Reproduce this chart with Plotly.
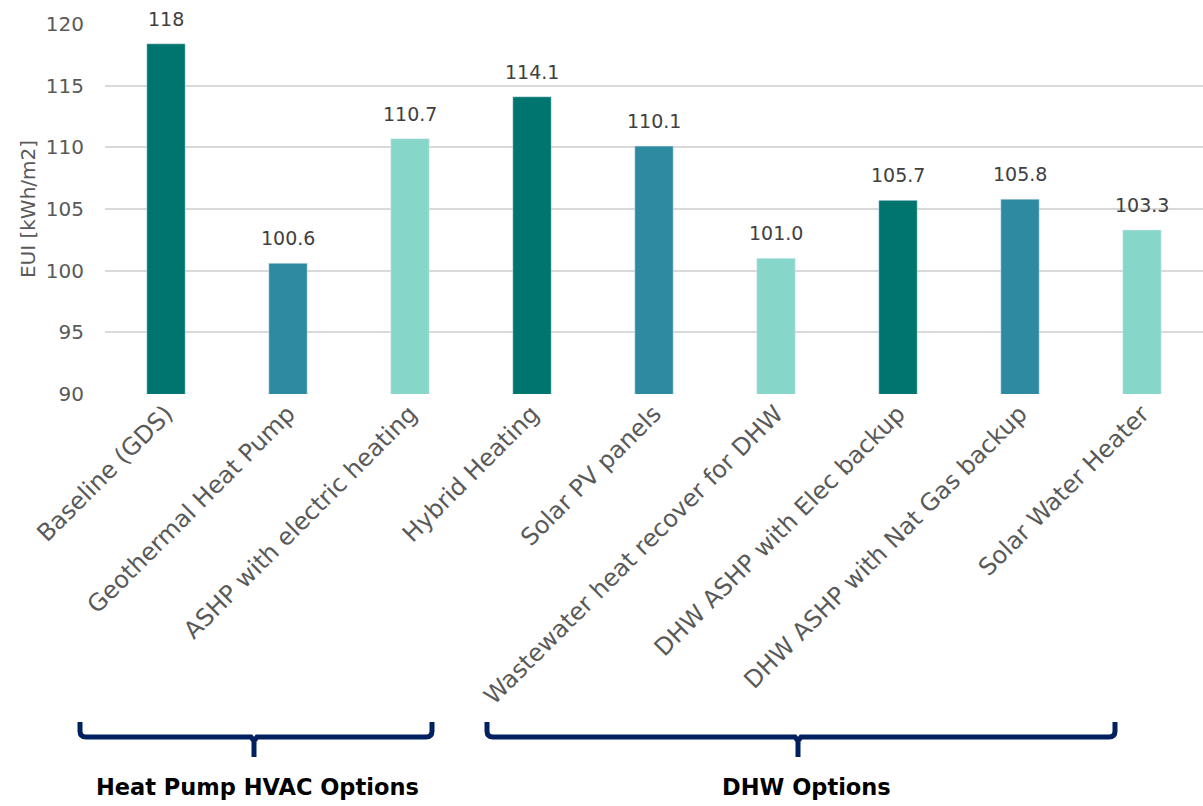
import plotly.graph_objects as go

categories = ["Baseline (GDS)", "Geothermal Heat Pump", "ASHP with electric heating",
              "Hybrid Heating", "Solar PV panels", "Wastewater heat recover for DHW",
              "DHW ASHP with Elec backup", "DHW ASHP with Nat Gas backup", "Solar Water Heater"]
values = [118.4, 100.6, 110.7, 114.1, 110.1, 101.0, 105.7, 105.8, 103.3]
value_labels = ["118", "100.6", "110.7", "114.1", "110.1", "101.0", "105.7", "105.8", "103.3"]
bar_colors = ["#00756F", "#2E8AA1", "#86D6CA"] * 3
groups = ["Heat Pump HVAC Options", "DHW Options"]

W, H = 1203, 806
L, R, T, B = 105, 0, 24, 412
pw, ph = W - L - R, H - T - B

def px(x):
    return (x - L) / pw

def py(y):
    return (H - B - y) / ph

FONT = "'DejaVu Sans', sans-serif"

fig = go.Figure()
fig.add_trace(go.Bar(
    x=categories, y=values, marker_color=bar_colors, width=0.315,
))

annotations = []
for c, v, t in zip(categories, values, value_labels):
    annotations.append(dict(x=c, y=v, text=t, showarrow=False, xref="x", yref="y",
                            yanchor="middle", xanchor="center", yshift=25,
                            font=dict(size=19, color="#404040", family=FONT)))

def bracket(x0, x1, xm):
    ytop, ymid, ybot = 722, 737, 757
    r = 6
    path = (f"M {px(x0)},{py(ytop)} L {px(x0)},{py(ymid - r)} "
            f"Q {px(x0)},{py(ymid)} {px(x0 + r)},{py(ymid)} "
            f"L {px(xm - 3)},{py(ymid)} L {px(xm)},{py(ymid + 4)} L {px(xm)},{py(ybot)} "
            f"M {px(xm)},{py(ymid + 4)} L {px(xm + 3)},{py(ymid)} "
            f"L {px(x1 - r)},{py(ymid)} Q {px(x1)},{py(ymid)} {px(x1)},{py(ymid - r)} "
            f"L {px(x1)},{py(ytop)}")
    return dict(type="path", xref="paper", yref="paper", path=path,
                line=dict(color="#002060", width=5))

shapes = [bracket(80, 432, 254), bracket(487, 1115, 798)]

annotations += [
    dict(text=f"<b>{groups[0]}</b>", x=px(257), y=py(787), xref="paper", yref="paper",
         showarrow=False, font=dict(size=22.5, color="#000000", family=FONT),
         xanchor="center", yanchor="middle"),
    dict(text=f"<b>{groups[1]}</b>", x=px(806), y=py(787), xref="paper", yref="paper",
         showarrow=False, font=dict(size=22.5, color="#000000", family=FONT),
         xanchor="center", yanchor="middle"),
]

fig.update_layout(
    width=W, height=H,
    margin=dict(l=L, r=R, t=T, b=B, autoexpand=False),
    plot_bgcolor="white", paper_bgcolor="white",
    showlegend=False, shapes=shapes, annotations=annotations,
    font=dict(family=FONT, color="#595959"),
)
fig.update_xaxes(
    tickangle=-45, tickfont=dict(size=24, color="#595959", family=FONT),
    showline=False, showgrid=False, ticks="", range=[-0.5, 8.5],
)
fig.update_yaxes(
    range=[90, 120], dtick=5, tick0=90,
    showgrid=True, gridcolor="#D9D9D9", gridwidth=1.5,
    zeroline=False, showline=False, ticks="", ticklabelstandoff=20,
    tickfont=dict(size=20, color="#595959", family=FONT),
    title=dict(text="EUI [kWh/m2]", font=dict(size=20, color="#595959", family=FONT), standoff=4),
)
fig.write_html("out.html")
